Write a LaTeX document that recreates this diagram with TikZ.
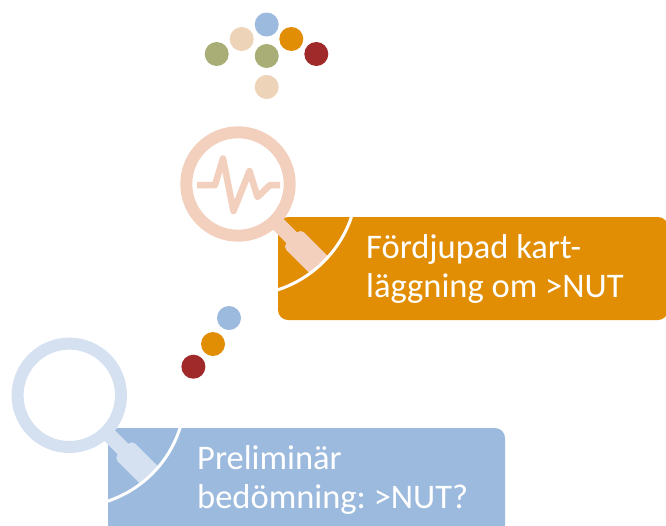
\documentclass[tikz,border=0pt]{standalone}
\usepackage{fontspec}
\setmainfont{Carlito}
\frenchspacing
\definecolor{cBlue}{HTML}{9CBADD}
\definecolor{cOrange}{HTML}{E28E05}
\definecolor{cRed}{HTML}{A02A2A}
\definecolor{cOlive}{HTML}{A9AD76}
\definecolor{cBeige}{HTML}{EDD3B7}
\definecolor{cPeach}{HTML}{F2D0BD}
\definecolor{cPale}{HTML}{D5E0F0}
\tikzset{
  dot/.style={circle,fill=#1,draw=none,minimum size=24pt,inner sep=0pt},
  boxtext/.style={white,font=\fontsize{34.5}{39}\selectfont,align=left,anchor=west,inner sep=0pt}
}
\newcommand{\lens}[6]{% centre x, y, colour, arc centre offset x, y, radius
  \begin{scope}[shift={(#1,#2)}]
    \draw[#3,line width=12pt] (0,0) circle (51.7);
    \begin{scope}
      \clip (#4,#5) circle (#6);
      \draw[#3,line width=15pt] (38,38) -- (60,60);
      \fill[#3,rounded corners=5pt] (62.5,44.9) -- (110,92.4) -- (92.4,110) -- (44.9,62.5) -- cycle;
    \end{scope}
  \end{scope}}
\begin{document}
\begin{tikzpicture}[x=1pt,y=-1pt]
\useasboundingbox (0,0) rectangle (666,525);
% top cluster
\node[dot=cBlue] (d1) at (266.7,24.5) {};
\node[dot=cBeige] (d2) at (241.7,39) {};
\node[dot=cOrange] (d3) at (291.3,39) {};
\node[dot=cOlive] (d4) at (216.7,54) {};
\node[dot=cOlive] (d5) at (266.7,56) {};
\node[dot=cRed] (d6) at (316.3,54) {};
\node[dot=cBeige] (d7) at (266.7,87) {};
% middle dots
\node[dot=cBlue] (d8) at (229,318) {};
\node[dot=cOrange] (d9) at (213,344) {};
\node[dot=cRed] (d10) at (193.4,366.7) {};
% orange box
\fill[cOrange,rounded corners=10pt] (278,217) rectangle (668,320);
\lens{238}{184}{cPeach}{4}{-4}{115.5}
\begin{scope}
  \clip[rounded corners=10pt] (278,217) rectangle (668,320);
  \draw[white,line width=3pt] (242,180) circle (115.5);
\end{scope}
\draw[cPeach,line width=6.5pt,line join=round] (197,185) -- (215,185) -- (223,158.5) -- (233.5,211) -- (249.5,171) -- (257.5,197) -- (270,185) -- (280,185);
\node[boxtext] (t1) at (366,268.5) {Fördjupad kart-\\läggning om >NUT};
% blue box
\fill[cBlue,rounded corners=10pt] (108,428) rectangle (505,535);
\lens{69.3}{395.3}{cPale}{3}{-1.5}{113}
\begin{scope}
  \clip[rounded corners=10pt] (108,428) rectangle (505,535);
  \draw[white,line width=3pt] (72.3,393.8) circle (113);
\end{scope}
\node[boxtext] (t2) at (197,479.5) {Preliminär\\bedömning: >NUT?};
\end{tikzpicture}
\end{document}
